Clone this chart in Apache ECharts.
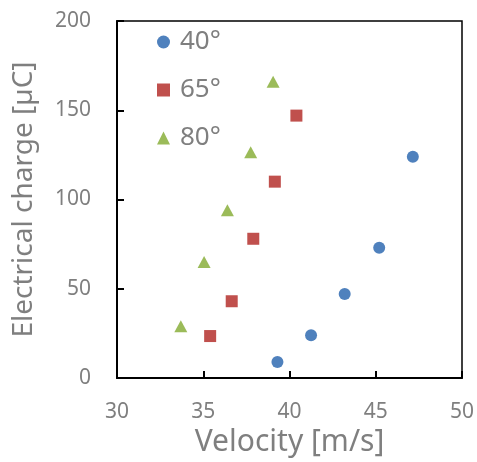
<!DOCTYPE html>
<html>
<head>
<meta charset="utf-8">
<script src="https://cdn.jsdelivr.net/npm/echarts@6/dist/echarts.min.js"></script>
<style>
  html, body { margin: 0; padding: 0; background: #fff; }
  #chart { width: 477px; height: 462px; }
</style>
</head>
<body>
<div id="chart"></div>
<script>
// values: [velocity m/s, charge µC]
var deg40 = [[39.3, 9], [41.25, 24], [43.2, 47], [45.2, 73], [47.15, 124]];
var deg65 = [[35.4, 23.5], [36.65, 43], [37.9, 78], [39.15, 110], [40.4, 147]];
var deg80 = [[33.7, 29], [35.05, 65], [36.4, 94], [37.75, 126.5], [39.05, 166]];
var seriesNames = ['40°', '65°', '80°'];

var chart = echarts.init(document.getElementById('chart'));
var font = 'Noto Sans';
var grey = '#7f7f7f';

var option = {
    animation: false,
    textStyle: { fontFamily: font },
    grid: {
        left: 117, right: 15, top: 21, bottom: 84,
        outerBoundsMode: 'none',
        containLabel: false,
        show: true, borderColor: '#000', borderWidth: 1.5
    },
    legend: {
        orient: 'vertical',
        left: 152, top: 24,
        itemWidth: 13, itemHeight: 13,
        itemGap: 22,
        textStyle: { fontSize: 26, color: grey, fontFamily: font, padding: [0, 0, 0, 5] },
        data: seriesNames
    },
    xAxis: {
        type: 'value',
        min: 30, max: 50, interval: 5,
        name: 'Velocity [m/s]',
        nameLocation: 'middle',
        nameGap: 47,
        nameTextStyle: { fontSize: 30, color: grey, fontFamily: font },
        axisLine: { lineStyle: { color: '#000', width: 2 } },
        axisTick: { inside: true, length: 7, lineStyle: { color: '#000', width: 2 } },
        axisLabel: { margin: 24, fontSize: 21, color: grey },
        splitLine: { show: false }
    },
    yAxis: {
        type: 'value',
        min: 0, max: 200, interval: 50,
        name: 'Electrical charge [µC]',
        nameLocation: 'middle',
        nameGap: 79,
        nameTextStyle: { fontSize: 28, color: grey, fontFamily: font },
        axisLine: { show: true, lineStyle: { color: '#000', width: 2 } },
        axisTick: { show: true, inside: true, length: 7, lineStyle: { color: '#000', width: 2 } },
        axisLabel: { margin: 26, fontSize: 21, color: grey },
        splitLine: { show: false }
    },
    series: [
        {
            name: seriesNames[0], type: 'scatter', data: deg40,
            symbol: 'circle', symbolSize: 12,
            itemStyle: { color: '#4f81bd', opacity: 1 }
        },
        {
            name: seriesNames[1], type: 'scatter', data: deg65,
            symbol: 'rect', symbolSize: 12,
            itemStyle: { color: '#c0504d', opacity: 1 }
        },
        {
            name: seriesNames[2], type: 'scatter', data: deg80,
            symbol: 'triangle', symbolSize: [13, 12],
            itemStyle: { color: '#9bbb59', opacity: 1 }
        }
    ]
};

chart.setOption(option);
</script>
</body>
</html>
